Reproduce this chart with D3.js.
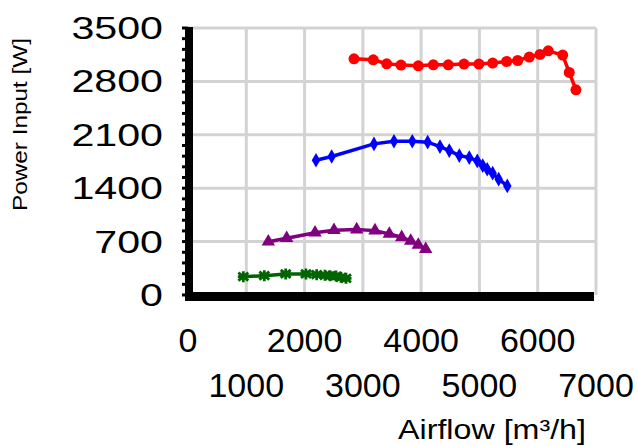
<!DOCTYPE html>
<html>
<head>
<meta charset="utf-8">
<script src="https://cdn.jsdelivr.net/npm/d3@7"></script>
<style>
  body {margin: 0; background: #fff;}
  text {font-family: Arial, "Liberation Sans", sans-serif; fill: #000;}
</style>
</head>
<body>
<div id="chart"></div>
<script>
// values (airflow m3/h, power W)
var redFlow   = [2848, 3179, 3409, 3654, 3951, 4209, 4466, 4735, 4992, 5227, 5467, 5656, 5855, 6039, 6181, 6428, 6541, 6656]
var redPower  = [3096, 3083, 3031, 3014, 3004, 3017, 3017, 3027, 3027, 3040, 3061, 3074, 3119, 3153, 3201, 3145, 2917, 2690]

var blueFlow  = [2196, 2465, 3191, 3534, 3848, 4112, 4323, 4483, 4655, 4826, 4963, 5056, 5134, 5227, 5330, 5478]
var bluePower = [1767, 1815, 1981, 2016, 2016, 2003, 1946, 1893, 1828, 1801, 1758, 1696, 1649, 1597, 1518, 1430]

var purpleFlow  = [1378, 1693, 2179, 2505, 2894, 3208, 3454, 3666, 3821, 3951, 4078]
var purplePower = [699, 744, 817, 849, 857, 844, 800, 757, 708, 656, 600]

var greenFlow  = [949, 1309, 1676, 2024, 2208, 2350, 2436, 2539, 2625, 2711]
var greenPower = [240, 253, 276, 276, 266, 258, 253, 249, 232, 219]

var xTicks = [0, 1000, 2000, 3000, 4000, 5000, 6000, 7000]
var yTicks = [0, 700, 1400, 2100, 2800, 3500]

var series = [
  {flow: greenFlow, power: greenPower, color: "#006400", marker: "star"},
  {flow: purpleFlow, power: purplePower, color: "#800080", marker: "triangle"},
  {flow: blueFlow, power: bluePower, color: "#0000ff", marker: "diamond"},
  {flow: redFlow, power: redPower, color: "#ff0000", marker: "circle"}
]

var svg = d3.select("#chart").append("svg")
            .attr("width", 638)
            .attr("height", 446)

var x = d3.scaleLinear().domain([0, 7000]).range([188, 596])
var y = d3.scaleLinear().domain([0, 3500]).range([295, 28])

// grid
svg.append("g").selectAll("line").data(xTicks.slice(1)).join("line")
   .attr("x1", d => x(d)).attr("x2", d => x(d))
   .attr("y1", y(0)).attr("y2", y(3500))
   .attr("stroke", "#d3d3d3").attr("stroke-width", 3)
svg.append("g").selectAll("line").data(yTicks.slice(1)).join("line")
   .attr("x1", x(0)).attr("x2", x(7000))
   .attr("y1", d => y(d)).attr("y2", d => y(d))
   .attr("stroke", "#d3d3d3").attr("stroke-width", 3)

// axes: thick black lines, minor ticks on the left
svg.append("g").selectAll("line").data(d3.range(0, 3501, 140)).join("line")
   .attr("x1", x(0) - 6).attr("x2", x(0))
   .attr("y1", d => y(d)).attr("y2", d => y(d))
   .attr("stroke", "#000").attr("stroke-width", 3)
svg.append("line")
   .attr("x1", x(0) + 1).attr("x2", x(0) + 1)
   .attr("y1", y(3500) - 1).attr("y2", y(0) + 6)
   .attr("stroke", "#000").attr("stroke-width", 8)
svg.append("line")
   .attr("x1", x(0) - 3).attr("x2", x(7000) - 2)
   .attr("y1", y(0) + 1.5).attr("y2", y(0) + 1.5)
   .attr("stroke", "#000").attr("stroke-width", 9)

// series
var line = d3.line().x(d => x(d[0])).y(d => y(d[1]))
var symbols = {
  circle: d3.symbol().type(d3.symbolCircle).size(95),
  diamond: d3.symbol().type(d3.symbolDiamond).size(62),
  triangle: d3.symbol().type(d3.symbolTriangle).size(78)
}

series.forEach(s => {
  var pts = s.flow.map((f, i) => [f, s.power[i]])
  svg.append("path")
     .attr("d", line(pts))
     .attr("fill", "none")
     .attr("stroke", s.color)
     .attr("stroke-width", 3.5)
  var g = svg.append("g")
  if (s.marker == "star") {
    g.selectAll("path").data(pts).join("path")
     .attr("transform", d => "translate(" + x(d[0]) + "," + y(d[1]) + ")")
     .attr("d", "M-5,-4L5,4M-5,4L5,-4M0,-5.5L0,5.5M-5.5,0L5.5,0")
     .attr("stroke", s.color).attr("stroke-width", 2.8)
  } else {
    g.selectAll("path").data(pts).join("path")
     .attr("transform", d => "translate(" + x(d[0]) + "," + y(d[1]) + ")")
     .attr("d", symbols[s.marker])
     .attr("fill", s.color)
  }
})

// y tick labels (wide lettering)
svg.append("g").selectAll("text").data(yTicks).join("text")
   .attr("transform", d => "translate(163," + y(d) + ") scale(1.35,1)")
   .attr("dy", "0.36em")
   .attr("text-anchor", "end")
   .style("font-size", "30.5px")
   .text(d => d)

// x tick labels, staggered in two rows
svg.append("g").selectAll("text").data(xTicks).join("text")
   .attr("x", d => x(d))
   .attr("y", (d, i) => i % 2 == 0 ? 352 : 397)
   .attr("text-anchor", "middle")
   .style("font-size", "34px")
   .text(d => d)

// axis titles
svg.append("text")
   .attr("x", 398).attr("y", 439)
   .attr("textLength", 188).attr("lengthAdjust", "spacingAndGlyphs")
   .style("font-size", "27px")
   .text("Airflow [m³/h]")

svg.append("text")
   .attr("transform", "translate(27,211) rotate(-90)")
   .attr("textLength", 173).attr("lengthAdjust", "spacingAndGlyphs")
   .style("font-size", "20px")
   .text("Power Input [W]")
</script>
</body>
</html>
